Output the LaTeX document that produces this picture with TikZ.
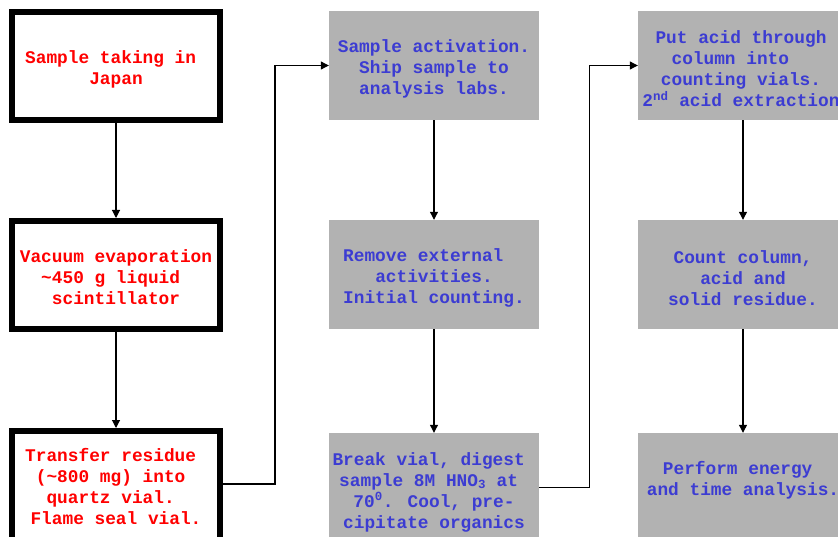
\documentclass[tikz,border=0pt]{standalone}
\usepackage{fontspec}
\setmainfont{Liberation Mono}
\usetikzlibrary{arrows.meta}
\definecolor{txtred}{RGB}{255,0,0}
\definecolor{txtblue}{RGB}{60,60,210}
\definecolor{boxgray}{RGB}{178,178,178}
\newcommand\trsp{\hphantom{x}}
\begin{document}
\begin{tikzpicture}[x=1pt,y=-1pt,
  redbox/.style={draw=black, line width=6pt, fill=white, minimum width=208pt, minimum height=108pt, inner sep=0pt},
  graybox/.style={fill=boxgray, minimum width=210pt, minimum height=109pt, inner sep=0pt},
  redtext/.style={text=txtred, font=\bfseries\fontsize{17.8}{21}\selectfont, align=center, inner sep=0pt},
  bluetext/.style={text=txtblue, font=\bfseries\fontsize{17.8}{21}\selectfont, align=center, inner sep=0pt},
  flow/.style={line width=1.1pt, -{Triangle[length=8pt,width=8pt]}}]
\useasboundingbox (0,0) rectangle (838,537);
\clip (0,0) rectangle (838,537);
% left column
\node[redbox] (b1) at (116,66) {};
\node[redbox] (b2) at (116,275) {};
\node[redbox, minimum height=112pt] (b3) at (116,487) {};
% middle column
\node[graybox] (b4) at (434,65.5) {};
\node[graybox] (b5) at (434,274.5) {};
\node[graybox] (b6) at (434,487.5) {};
% right column
\node[graybox] (b7) at (743,65.5) {};
\node[graybox] (b8) at (743,274.5) {};
\node[graybox] (b9) at (743,487.5) {};
% texts
\node[redtext] (t1) at (116,69) {Sample taking in\trsp\\Japan};
\node[redtext] (t2) at (116,277.5) {Vacuum evaporation\\\textasciitilde450 g liquid\trsp\\scintillator};
\node[redtext] (t3) at (116,487) {Transfer residue\trsp\\(\textasciitilde800 mg) into\trsp\\quartz vial.\trsp\\Flame seal vial.};
\node[bluetext] (t4) at (434,68.5) {Sample activation.\\Ship sample to\\analysis labs.};
\node[bluetext] (t5) at (434,277.5) {Remove external\trsp\trsp\\activities.\\Initial counting.};
\node[bluetext] (t6) at (434,492) {Break vial, digest\trsp\\sample 8M HNO\textsubscript{3} at\trsp\\70\textsuperscript{0}. Cool, pre-\\cipitate organics};
\node[bluetext] (t7) at (741,69) {Put acid through\\column into\trsp\trsp\\counting vials.\\2\textsuperscript{nd} acid extraction};
\node[bluetext] (t8) at (743,278) {Count column,\\acid and\\solid residue.};
\node[bluetext] (t9) at (743,480) {Perform energy\trsp\\and time analysis.};
% connectors
\draw[flow] (b1.south) -- (b2.north);
\draw[flow] (b2.south) -- (b3.north);
\draw[flow] ([yshift=3pt]b3.east) -- ++(52,0) |- (b4.west);
\draw[flow] (b4.south) -- (b5.north);
\draw[flow] (b5.south) -- (b6.north);
\draw[flow] (b6.east) -- ++(50,0) |- (b7.west);
\draw[flow] (b7.south) -- (b8.north);
\draw[flow] (b8.south) -- (b9.north);
\end{tikzpicture}
\end{document}
